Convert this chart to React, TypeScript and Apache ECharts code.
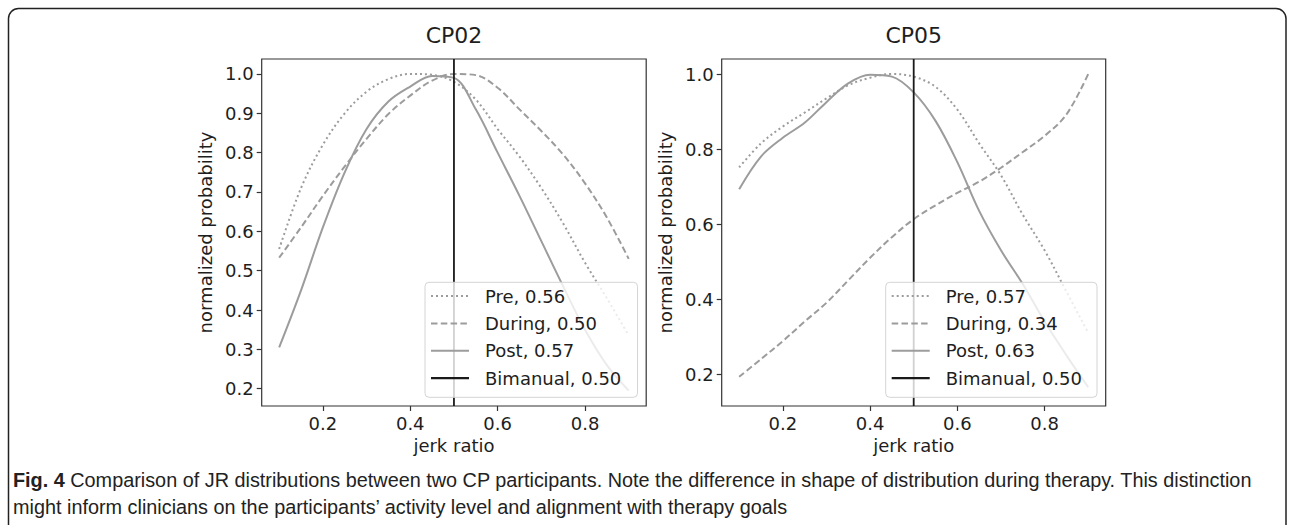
import React, { useEffect, useRef } from "react";
import * as echarts from "echarts";

// ---- data ----
const jerkRatio = [0.1, 0.15, 0.2, 0.25, 0.3, 0.35, 0.4, 0.45, 0.5, 0.55, 0.6, 0.65, 0.7, 0.75, 0.8, 0.85, 0.9];

const cp02Pre = [0.555, 0.71, 0.82, 0.9, 0.955, 0.987, 1.0, 0.998, 0.98, 0.935, 0.86, 0.79, 0.71, 0.62, 0.52, 0.43, 0.335];
const cp02During = [0.533, 0.61, 0.69, 0.765, 0.835, 0.898, 0.945, 0.983, 1.0, 0.997, 0.965, 0.91, 0.855, 0.795, 0.722, 0.635, 0.53];
const cp02Post = [0.305, 0.45, 0.61, 0.75, 0.86, 0.93, 0.968, 0.995, 0.99, 0.91, 0.8, 0.69, 0.575, 0.46, 0.35, 0.26, 0.195];

const cp05Pre = [0.751, 0.815, 0.86, 0.897, 0.935, 0.97, 0.99, 1.0, 0.993, 0.966, 0.905, 0.815, 0.73, 0.625, 0.53, 0.42, 0.31];
const cp05During = [0.193, 0.24, 0.288, 0.34, 0.39, 0.45, 0.51, 0.565, 0.613, 0.65, 0.683, 0.713, 0.75, 0.792, 0.835, 0.892, 1.0];
const cp05Post = [0.693, 0.78, 0.83, 0.87, 0.925, 0.975, 0.998, 0.993, 0.951, 0.875, 0.765, 0.635, 0.53, 0.44, 0.34, 0.25, 0.165];

const bimanualRatio = 0.5;

const panelTitles = ["CP02", "CP05"];
const cp02Labels = ["Pre, 0.56", "During, 0.50", "Post, 0.57", "Bimanual, 0.50"];
const cp05Labels = ["Pre, 0.57", "During, 0.34", "Post, 0.63", "Bimanual, 0.50"];

const xTickLabels = ["0.2", "0.4", "0.6", "0.8"];
const cp02YTickLabels = ["0.2", "0.3", "0.4", "0.5", "0.6", "0.7", "0.8", "0.9", "1.0"];
const cp05YTickLabels = ["0.2", "0.4", "0.6", "0.8", "1.0"];

const xLimits = [0.06, 0.94];
const cp02YLimits = [0.156, 1.038];
const cp05YLimits = [0.115, 1.04];

const xAxisName = "jerk ratio";
const yAxisName = "normalized probability";
const captionBold = "Fig. 4";
const captionLine1 =
  " Comparison of JR distributions between two CP participants. Note the difference in shape of distribution during therapy. This distinction";
const captionLine2 = "might inform clinicians on the participants\u2019 activity level and alignment with therapy goals";

// ---- styling ----
const FONT = "DejaVu Sans";
const CAPTION_FONT = "Liberation Sans";
const TEXT = "#1e1e1e";
const GREY = "#9c9c9c";
const DOTTED = [2, 3];
const DASHED = [6.5, 3.3];

const grids = [
  { left: 261.7, top: 59, width: 384.5, height: 347 },
  { left: 721.7, top: 59, width: 384, height: 347 },
];

function captionFontSize(): number {
  const base = 18;
  const target = 1240;
  try {
    const ctx = document.createElement("canvas").getContext("2d");
    if (!ctx) return base;
    ctx.font = `bold ${base}px "${CAPTION_FONT}"`;
    const wb = ctx.measureText(captionBold).width;
    ctx.font = `${base}px "${CAPTION_FONT}"`;
    const wn = ctx.measureText(captionLine1).width;
    const w = wb + wn;
    if (!w) return base;
    return (base * target) / w;
  } catch (e) {
    return base;
  }
}

export default function App() {
  const ref = useRef<HTMLDivElement>(null);

  useEffect(() => {
    if (!ref.current) return;
    const chart = echarts.init(ref.current, null, { renderer: "svg" });
    const capFs = captionFontSize();

    const panels = [
      { pre: cp02Pre, during: cp02During, post: cp02Post, labels: cp02Labels, yTicks: cp02YTickLabels, yLim: cp02YLimits },
      { pre: cp05Pre, during: cp05During, post: cp05Post, labels: cp05Labels, yTicks: cp05YTickLabels, yLim: cp05YLimits },
    ];

    const series: any[] = [];
    panels.forEach((p, i) => {
      const curves = [
        { name: p.labels[0], data: p.pre, type: DOTTED },
        { name: p.labels[1], data: p.during, type: DASHED },
        { name: p.labels[2], data: p.post, type: "solid" },
      ];
      curves.forEach((c) => {
        series.push({
          type: "line",
          name: c.name,
          xAxisIndex: i,
          yAxisIndex: i,
          data: jerkRatio.map((x, k) => [x, c.data[k]]),
          symbol: "none",
          smooth: 0.35,
          lineStyle: { color: GREY, width: 2, type: c.type, cap: "butt" },
          itemStyle: { color: GREY },
          z: 2,
        });
      });
      series.push({
        type: "line",
        name: p.labels[3],
        xAxisIndex: i,
        yAxisIndex: i,
        data: [
          [bimanualRatio, p.yLim[0]],
          [bimanualRatio, p.yLim[1]],
        ],
        symbol: "none",
        lineStyle: { color: "#1a1a1a", width: 1.8 },
        itemStyle: { color: "#1a1a1a" },
        z: 3,
      });
    });

    const graphic: any[] = [
      {
        type: "rect",
        silent: true,
        shape: { x: 8.5, y: 8.5, width: 1277.5, height: 560, r: 10 },
        style: { fill: "none", stroke: "#222", lineWidth: 1.5 },
        z: 0,
      },
      {
        type: "text",
        x: 13,
        y: 480,
        style: {
          text: "{b|" + captionBold + "}" + captionLine1,
          font: `${capFs}px '${CAPTION_FONT}'`,
          fill: "#222",
          verticalAlign: "middle",
          rich: { b: { fontWeight: "bold", fontSize: capFs, fontFamily: CAPTION_FONT, fill: "#222" } },
        },
        z: 10,
      },
      {
        type: "text",
        x: 13,
        y: 507,
        style: {
          text: captionLine2,
          font: `${capFs}px '${CAPTION_FONT}'`,
          fill: "#222",
          verticalAlign: "middle",
        },
        z: 10,
      },
    ];

    // legends (matplotlib-like, lower right, semi-transparent)
    const legendLeft = [425, 885.7];
    const legendRight = [637.5, 1097];
    panels.forEach((p, i) => {
      const x0 = legendLeft[i];
      const top = 282.3;
      const styles = [
        { stroke: GREY, lineDash: DOTTED, lineWidth: 2 },
        { stroke: GREY, lineDash: DASHED, lineWidth: 2 },
        { stroke: GREY, lineWidth: 2 },
        { stroke: "#1a1a1a", lineWidth: 2.2 },
      ];
      graphic.push({
        type: "rect",
        silent: true,
        shape: { x: x0, y: top, width: legendRight[i] - x0, height: 115, r: 4 },
        style: { fill: "rgba(255,255,255,0.8)", stroke: "#d4d4d4", lineWidth: 1 },
        z: 20,
      });
      p.labels.forEach((lab, k) => {
        const yy = 296 + k * 27.4;
        graphic.push({
          type: "line",
          silent: true,
          shape: { x1: x0 + 6, y1: yy, x2: x0 + 44, y2: yy },
          style: { ...styles[k], lineCap: "butt" },
          z: 21,
        });
        graphic.push({
          type: "text",
          silent: true,
          x: x0 + 60,
          y: yy,
          style: { text: lab, font: "18px 'DejaVu Sans'", fill: TEXT, verticalAlign: "middle" },
          z: 21,
        });
      });
    });

    const axisLabelStyle = { fontSize: 18, color: TEXT, fontFamily: FONT };

    const option: any = {
      animation: false,
      backgroundColor: "#fff",
      title: panelTitles.map((t, i) => ({
        text: t,
        left: grids[i].left + grids[i].width / 2 - 5,
        top: 19,
        textAlign: "center",
        textStyle: { fontSize: 22, fontWeight: "normal", color: TEXT, fontFamily: FONT },
      })),
      grid: grids.map((g) => ({ ...g, show: true, borderColor: "#333", borderWidth: 1.2, backgroundColor: "transparent" })),
      xAxis: panels.map((p, i) => ({
        type: "value",
        gridIndex: i,
        min: xLimits[0],
        max: xLimits[1],
        name: xAxisName,
        nameLocation: "middle",
        nameGap: 30,
        nameTextStyle: axisLabelStyle,
        axisLine: { show: false, onZero: false },
        axisTick: { show: true, length: 5, customValues: xTickLabels.map(Number), lineStyle: { color: "#333", width: 1.2 } },
        axisLabel: { ...axisLabelStyle, margin: 8, customValues: xTickLabels.map(Number), formatter: (v: number) => v.toFixed(1) },
        splitLine: { show: false },
      })),
      yAxis: panels.map((p, i) => ({
        type: "value",
        gridIndex: i,
        min: p.yLim[0],
        max: p.yLim[1],
        name: yAxisName,
        nameLocation: "middle",
        nameGap: 47,
        nameTextStyle: axisLabelStyle,
        axisLine: { show: false, onZero: false },
        axisTick: { show: true, length: 5, customValues: p.yTicks.map(Number), lineStyle: { color: "#333", width: 1.2 } },
        axisLabel: { ...axisLabelStyle, margin: 8, customValues: p.yTicks.map(Number), formatter: (v: number) => v.toFixed(1) },
        splitLine: { show: false },
      })),
      series,
      graphic,
    };

    chart.setOption(option);
    return () => chart.dispose();
  }, []);

  return <div ref={ref} style={{ position: "fixed", left: 0, top: 0, width: 1290, height: 525 }} />;
}
